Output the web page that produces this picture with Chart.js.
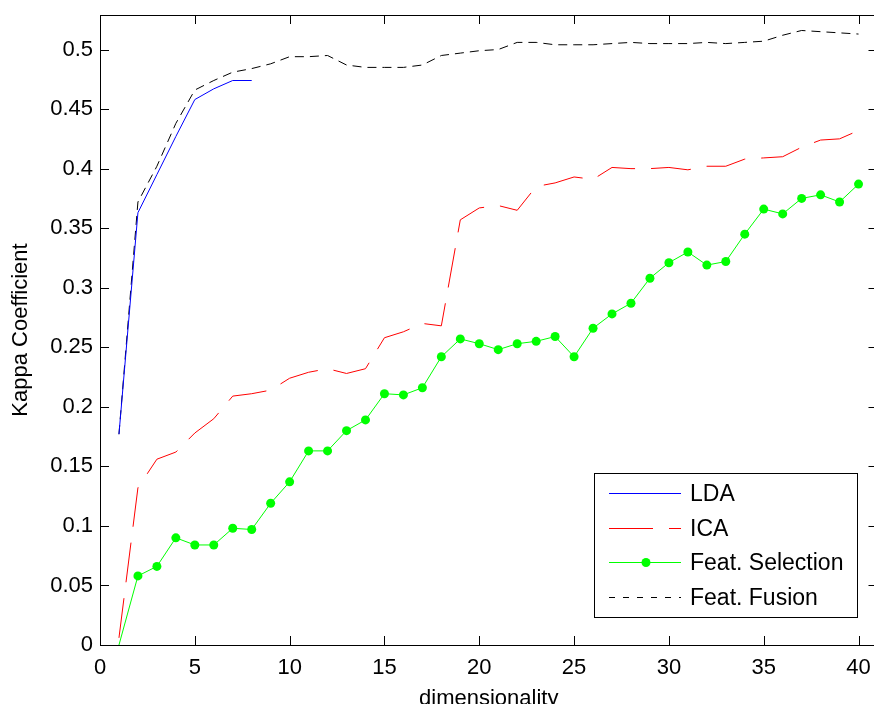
<!DOCTYPE html>
<html>
<head>
<meta charset="utf-8">
<style>
  html, body { margin: 0; padding: 0; background: #fff; overflow: hidden; }
  #wrap { width: 882px; height: 720px; }
</style>
<script src="https://cdn.jsdelivr.net/npm/chart.js@4/dist/chart.umd.min.js"></script>
</head>
<body>
<div id="wrap"><canvas id="myChart" width="882" height="720"></canvas></div>
<script>
const dims = [1, 2, 3, 4, 5, 6, 7, 8, 9, 10, 11, 12, 13, 14, 15, 16, 17, 18, 19, 20,
  21, 22, 23, 24, 25, 26, 27, 28, 29, 30, 31, 32, 33, 34, 35, 36, 37, 38, 39, 40];

const lda = [0.177, 0.363, 0.395, 0.427, 0.458, 0.467, 0.474, 0.474];

const ica = [0.006, 0.132, 0.156, 0.162, 0.178, 0.19, 0.209, 0.211, 0.214, 0.224,
  0.229, 0.232, 0.228, 0.232, 0.258, 0.263, 0.27, 0.268, 0.357, 0.367,
  0.369, 0.365, 0.385, 0.388, 0.393, 0.391, 0.401, 0.4, 0.4, 0.401,
  0.399, 0.402, 0.402, 0.408, 0.409, 0.41, 0.418, 0.424, 0.425, 0.432];

const featSelection = [0, 0.058, 0.066, 0.09, 0.084, 0.084, 0.098, 0.097, 0.119, 0.137,
  0.163, 0.163, 0.18, 0.189, 0.211, 0.21, 0.216, 0.242, 0.257, 0.253,
  0.248, 0.253, 0.255, 0.259, 0.242, 0.266, 0.278, 0.287, 0.308, 0.321,
  0.33, 0.319, 0.322, 0.345, 0.366, 0.362, 0.375, 0.378, 0.372, 0.387];

const featFusion = [0.177, 0.372, 0.402, 0.438, 0.466, 0.474, 0.481, 0.484, 0.488, 0.494,
  0.494, 0.495, 0.487, 0.485, 0.485, 0.485, 0.487, 0.495, 0.497, 0.499,
  0.5, 0.506, 0.506, 0.504, 0.504, 0.504, 0.505, 0.506, 0.505, 0.505,
  0.505, 0.506, 0.505, 0.506, 0.507, 0.512, 0.516, 0.515, 0.514, 0.513];

const xTicks = [0, 5, 10, 15, 20, 25, 30, 35, 40];
const yTicks = [0, 0.05, 0.1, 0.15, 0.2, 0.25, 0.3, 0.35, 0.4, 0.45, 0.5];

const FONT = "'Liberation Sans', Arial, sans-serif";
const toPoints = (vals) => vals.map((v, i) => ({ x: dims[i], y: v }));

const legendItems = [
  { label: "LDA", color: "#0000ff", dash: [] },
  { label: "ICA", color: "#ff0000", dash: [44, 16] },
  { label: "Feat. Selection", color: "#00ff00", dash: [], marker: true },
  { label: "Feat. Fusion", color: "#000000", dash: [6, 8] },
];

// frame with inward ticks, plus a matlab-style legend box
const matlabFrame = {
  id: "matlabFrame",
  afterDraw(chart) {
    const ctx = chart.ctx;
    const a = chart.chartArea;
    const xs = chart.scales.x;
    const ys = chart.scales.y;
    ctx.save();
    ctx.strokeStyle = "#000";
    ctx.lineWidth = 1;
    ctx.strokeRect(a.left + 0.5, a.top + 0.5, a.right - a.left, a.bottom - a.top);
    ctx.beginPath();
    xTicks.forEach((t) => {
      const px = Math.round(xs.getPixelForValue(t)) + 0.5;
      ctx.moveTo(px, a.bottom);
      ctx.lineTo(px, a.bottom - 9);
      ctx.moveTo(px, a.top);
      ctx.lineTo(px, a.top + 9);
    });
    yTicks.forEach((t) => {
      const py = Math.round(ys.getPixelForValue(t)) + 0.5;
      ctx.moveTo(a.left, py);
      ctx.lineTo(a.left + 9, py);
      ctx.moveTo(a.right, py);
      ctx.lineTo(a.right - 9, py);
    });
    ctx.stroke();

    // legend
    const bx = 594.5, by = 473.5, bw = 263, bh = 144;
    ctx.fillStyle = "#fff";
    ctx.fillRect(bx, by, bw, bh);
    ctx.strokeRect(bx, by, bw, bh);
    ctx.font = "23px " + FONT;
    ctx.textBaseline = "middle";
    legendItems.forEach((it, i) => {
      const y = Math.round(493 + i * 34.7) + 0.5;
      ctx.strokeStyle = it.color;
      ctx.setLineDash(it.dash);
      ctx.beginPath();
      ctx.moveTo(609, y);
      ctx.lineTo(681, y);
      ctx.stroke();
      ctx.setLineDash([]);
      if (it.marker) {
        ctx.fillStyle = it.color;
        ctx.beginPath();
        ctx.arc(646, y, 4.5, 0, Math.PI * 2);
        ctx.fill();
      }
      ctx.fillStyle = "#000";
      ctx.fillText(it.label, 690, y + 1);
    });
    ctx.restore();
  },
};

const ctx = document.getElementById("myChart").getContext("2d");
new Chart(ctx, {
  type: "line",
  data: {
    datasets: [
      {
        label: "LDA",
        data: toPoints(lda),
        borderColor: "#0000ff",
        borderWidth: 1,
        pointRadius: 0,
      },
      {
        label: "ICA",
        data: toPoints(ica),
        borderColor: "#ff0000",
        borderWidth: 1,
        borderDash: [40, 16],
        pointRadius: 0,
      },
      {
        label: "Feat. Selection",
        data: toPoints(featSelection),
        borderColor: "#00ff00",
        backgroundColor: "#00ff00",
        borderWidth: 1,
        pointRadius: (c) => (c.dataIndex === 0 ? 0 : 4.5),
        pointBorderWidth: 0,
        pointBackgroundColor: "#00ff00",
      },
      {
        label: "Feat. Fusion",
        data: toPoints(featFusion),
        borderColor: "#000000",
        borderWidth: 1,
        borderDash: [9, 6],
        pointRadius: 0,
      },
    ],
  },
  options: {
    responsive: false,
    animation: false,
    events: [],
    layout: { padding: { top: 15, left: 0, right: 0, bottom: 0 } },
    elements: { line: { tension: 0 } },
    plugins: {
      legend: { display: false },
      tooltip: { enabled: false },
    },
    scales: {
      x: {
        type: "linear",
        min: 0,
        max: 41,
        afterFit: (s) => {
          s.height = 75;
          s.paddingLeft = 0;
          s.paddingRight = 0;
        },
        afterBuildTicks: (s) => { s.ticks = xTicks.map((v) => ({ value: v })); },
        grid: { display: false, drawTicks: false },
        border: { display: false },
        ticks: {
          padding: 10,
          color: "#000",
          font: { family: FONT, size: 22 },
          maxRotation: 0,
        },
        title: {
          display: true,
          text: "dimensionality",
          color: "#000",
          font: { family: FONT, size: 22 },
          padding: { top: 0, bottom: 8 },
        },
      },
      y: {
        min: 0,
        max: 0.529,
        afterFit: (s) => {
          s.width = 100;
          s.paddingTop = 0;
          s.paddingBottom = 0;
        },
        afterBuildTicks: (s) => { s.ticks = yTicks.map((v) => ({ value: v })); },
        grid: { display: false, drawTicks: false },
        border: { display: false },
        ticks: {
          padding: 7,
          color: "#000",
          font: { family: FONT, size: 22 },
          callback: (v) => String(Number(v.toFixed(2))),
        },
        title: {
          display: true,
          text: "Kappa Coefficient",
          color: "#000",
          font: { family: FONT, size: 22 },
          padding: { top: 8, bottom: 0 },
        },
      },
    },
  },
  plugins: [matlabFrame],
});
</script>
</body>
</html>
